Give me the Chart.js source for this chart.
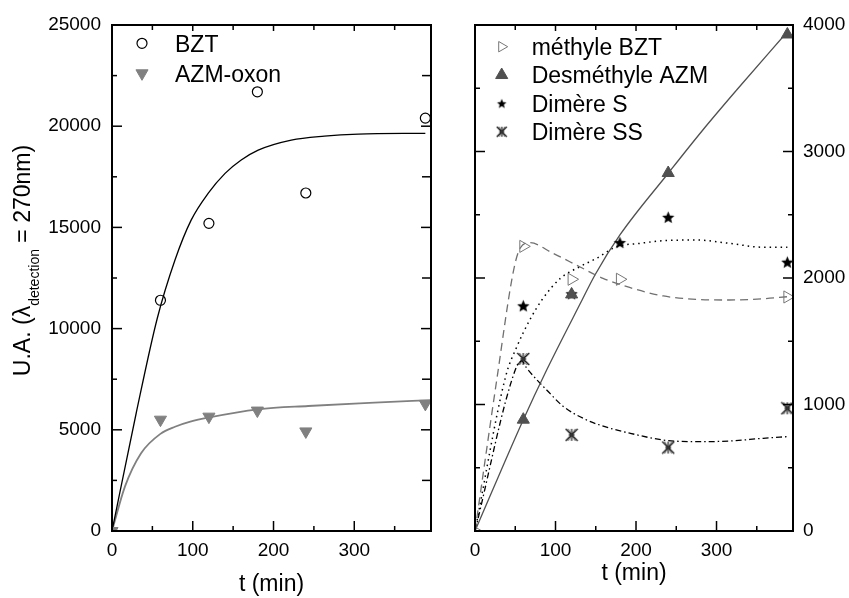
<!DOCTYPE html>
<html><head><meta charset="utf-8">
<script src="https://cdn.jsdelivr.net/npm/chart.js@4.4.0/dist/chart.umd.min.js"></script>
<style>
html,body{margin:0;padding:0;background:#fff;}
#w{position:relative;width:849px;height:598px;background:#fff;}
#c1{position:absolute;left:0;top:0;}
#c2{position:absolute;left:460px;top:0;}
</style></head><body>
<div id="w"><canvas id="c1" width="460" height="598"></canvas><canvas id="c2" width="389" height="598"></canvas></div>
<script>
const FONT = "'Liberation Sans', Arial, Helvetica, sans-serif";

// ---- Left panel data ----
const bztT = [60, 120, 180, 240, 388];
const bztV = [11400, 15200, 21700, 16700, 20400];
const oxonT = [0, 60, 120, 180, 240, 388];
const oxonV = [0, 5500, 5650, 5950, 4920, 6280];
const bztFitT = [0, 30, 56, 78, 98, 119, 140, 160, 181, 222, 263, 305, 388];
const bztFitV = [0, 5830, 10500, 13390, 15360, 16680, 17670, 18330, 18820, 19315, 19510, 19610, 19650];
const oxonFitT = [0, 16, 36, 60, 78, 97, 119, 181, 243, 325, 395];
const oxonFitV = [0, 2190, 3840, 4800, 5150, 5400, 5600, 6010, 6175, 6340, 6470];

// ---- Right panel data ----
const methT = [0, 60, 120, 180, 388];
const methV = [0, 2250, 1990, 1990, 1850];
const desT = [60, 120, 240, 388];
const desV = [880, 1870, 2830, 3925];
const dimST = [60, 120, 180, 240, 388];
const dimSV = [1780, 1875, 2280, 2480, 2125];
const dimSST = [60, 120, 240, 388];
const dimSSV = [1360, 760, 660, 970];
const methFitT = [0, 27, 48, 56, 68, 97, 130, 159, 192, 234, 275, 316, 358, 388];
const methFitV = [0, 1194, 2063, 2235, 2279, 2195, 2089, 1997, 1925, 1858, 1831, 1826, 1836, 1852];
const desFitT = [0, 60, 89, 133, 149, 180, 240, 283, 325, 388];
const desFitV = [0, 880, 1273, 1826, 2024, 2340, 2828, 3170, 3486, 3947];
const dimSFitT = [0, 38, 52, 68, 83, 106, 130, 151, 176, 205, 234, 275, 316, 358, 388];
const dimSFitV = [0, 1220, 1457, 1668, 1826, 1997, 2089, 2156, 2247, 2274, 2295, 2300, 2274, 2243, 2243];
const dimSSFitT = [0, 50, 58, 64, 77, 89, 110, 139, 168, 193, 234, 275, 316, 358, 388];
const dimSSFitV = [0, 1273, 1345, 1290, 1194, 1115, 983, 877, 812, 772, 719, 706, 711, 733, 746];

// ---- Ticks ----
const xMajor = [0, 100, 200, 300];
const xMinor = [50, 150, 250, 350];
const yMajorL = [0, 5000, 10000, 15000, 20000, 25000];
const yMinorL = [2500, 7500, 12500, 17500, 22500];
const yMajorR = [0, 1000, 2000, 3000, 4000];
const yMinorR = [500, 1500, 2500, 3500];

function xy(t, v) { return t.map((x, i) => ({x: x, y: v[i]})); }

function makeStar(r) {
  const s = Math.ceil(r * 2 + 2);
  const c = document.createElement('canvas'); c.width = s; c.height = s;
  const g = c.getContext('2d'); g.fillStyle = '#000'; g.beginPath();
  for (let i = 0; i < 10; i++) {
    const rr = i % 2 === 0 ? r : r * 0.45;
    const a = -Math.PI / 2 + i * Math.PI / 5;
    g.lineTo(s / 2 + rr * Math.cos(a), s / 2 + 0.6 + rr * Math.sin(a));
  }
  g.closePath(); g.fill();
  return c;
}
function makeSS(r) {
  const s = Math.ceil(r * 2 + 2);
  const c = document.createElement('canvas'); c.width = s; c.height = s;
  const g = c.getContext('2d'); const m = s / 2;
  g.strokeStyle = '#000'; g.lineWidth = 1.1;
  g.beginPath();
  g.moveTo(m - r, m - r); g.lineTo(m + r, m + r);
  g.moveTo(m + r, m - r); g.lineTo(m - r, m + r);
  g.moveTo(m, m - r); g.lineTo(m, m + r);
  g.moveTo(m - r * 0.5, m); g.lineTo(m + r * 0.5, m);
  g.stroke();
  g.strokeStyle = '#444'; g.lineWidth = 0.9;
  g.beginPath();
  g.moveTo(m - r * 0.6, m - r); g.lineTo(m + r * 0.6, m + r);
  g.moveTo(m + r * 0.6, m - r); g.lineTo(m - r * 0.6, m + r);
  g.stroke();
  return c;
}
const starImg = makeStar(6.5), starImgL = makeStar(5);
const ssImg = makeSS(6), ssImgL = makeSS(5);

const frameTicks = {
  id: 'frameTicks',
  afterDatasetsDraw(chart, args, o) {
    const ctx = chart.ctx, a = chart.chartArea;
    const xs = chart.scales.x, ys = chart.scales.y;
    ctx.save();
    ctx.strokeStyle = '#000'; ctx.lineWidth = 1.5;
    const line = (x1, y1, x2, y2) => { ctx.beginPath(); ctx.moveTo(x1, y1); ctx.lineTo(x2, y2); ctx.stroke(); };
    o.xMajor.forEach(v => { const p = xs.getPixelForValue(v); line(p, a.bottom, p, a.bottom - 10); line(p, a.top, p, a.top + 6); });
    o.xMinor.forEach(v => { const p = xs.getPixelForValue(v); line(p, a.bottom, p, a.bottom - 5); line(p, a.top, p, a.top + 5); });
    o.yMajor.forEach(v => { const p = ys.getPixelForValue(v); line(a.left, p, a.left + 10, p); line(a.right, p, a.right - 10, p); });
    o.yMinor.forEach(v => { const p = ys.getPixelForValue(v); line(a.left, p, a.left + o.lMin, p); line(a.right, p, a.right - o.rMin, p); });
    ctx.lineWidth = 2;
    ctx.strokeRect(a.left, a.top, a.right - a.left, a.bottom - a.top);
    ctx.restore();
  }
};

const inLegend = {
  id: 'inLegend',
  afterDraw(chart, args, o) {
    const ctx = chart.ctx;
    ctx.save();
    o.items.forEach((it, i) => {
      const ds = chart.data.datasets[it.ds];
      const y = o.y0 + i * o.dy;
      ctx.fillStyle = ds.pointBackgroundColor; ctx.strokeStyle = ds.pointBorderColor; ctx.lineWidth = ds.pointBorderWidth;
      Chart.helpers.drawPoint(ctx, {pointStyle: it.style || ds.pointStyle, rotation: ds.pointRotation || 0, radius: it.r, borderWidth: ds.pointBorderWidth}, o.mx, y);
      ctx.fillStyle = '#000'; ctx.font = '23px ' + FONT; ctx.textBaseline = 'alphabetic'; ctx.textAlign = 'left';
      ctx.fillText(ds.label, o.tx, y + 8.2);
    });
    ctx.restore();
  }
};

const yTitle = {
  id: 'yTitle',
  afterDraw(chart, args, o) {
    if (!o.show) return;
    const ctx = chart.ctx;
    ctx.save();
    const big = '23px ' + FONT, small = '14px ' + FONT;
    const p1 = 'U.A. (\u03BB', p2 = 'detection', p3 = ' = 270nm)';
    ctx.font = big; const w1 = ctx.measureText(p1).width, w3 = ctx.measureText(p3).width;
    ctx.font = small; const w2 = ctx.measureText(p2).width;
    const tot = w1 + w2 + w3;
    ctx.translate(30, 260.5 + tot / 2);
    ctx.rotate(-Math.PI / 2);
    ctx.fillStyle = '#000'; ctx.textBaseline = 'alphabetic'; ctx.textAlign = 'left';
    ctx.font = big; ctx.fillText(p1, 0, 0);
    ctx.font = small; ctx.fillText(p2, w1, 8.5);
    ctx.font = big; ctx.fillText(p3, w1 + w2, 0);
    ctx.restore();
  }
};

const lineDs = (label, t, v, color, width, dash) => ({
  label: label, data: xy(t, v), showLine: true, pointRadius: 0, pointHoverRadius: 0,
  borderColor: color, borderWidth: width, borderDash: dash, cubicInterpolationMode: 'monotone', fill: false, order: 1
});

function makeOpts(cfg) {
  return {
    responsive: false, animation: false, events: [],
    layout: {padding: cfg.padding},
    scales: {
      x: {
        type: 'linear', min: 0, max: 395,
        afterBuildTicks: s => { s.ticks = xMajor.map(v => ({value: v})); },
        afterFit: s => { s.height = 67; },
        grid: {display: false, drawTicks: false}, border: {display: false},
        ticks: {color: '#000', font: {family: FONT, size: 19}, padding: 8, maxRotation: 0, callback: v => String(v)},
        title: {display: true, text: 't (min)', color: '#000', font: {family: FONT, size: 23}, padding: {top: 0, bottom: cfg.xtPad}}
      },
      y: {
        type: 'linear', position: cfg.ypos, min: 0, max: cfg.ymax,
        afterBuildTicks: s => { s.ticks = cfg.yMajor.map(v => ({value: v})); },
        afterFit: s => { s.width = cfg.yw; },
        grid: {display: false, drawTicks: false}, border: {display: false},
        ticks: {color: '#000', font: {family: FONT, size: 19}, padding: cfg.ypad, callback: v => String(v)}
      }
    },
    plugins: {
      legend: {display: false}, tooltip: {enabled: false},
      frameTicks: {xMajor: xMajor, xMinor: xMinor, yMajor: cfg.yMajor, yMinor: cfg.yMinor, lMin: 5, rMin: cfg.rMin},
      inLegend: cfg.legend,
      yTitle: {show: cfg.ytitle}
    }
  };
}

new Chart(document.getElementById('c1'), {
  type: 'scatter',
  data: {datasets: [
    {label: 'BZT', data: xy(bztT, bztV), pointStyle: 'circle', pointRadius: 5, pointBackgroundColor: 'rgba(0,0,0,0)', pointBorderColor: '#000', pointBorderWidth: 1.2, order: 0, clip: 0},
    {label: 'AZM-oxon', data: xy(oxonT, oxonV), pointStyle: 'triangle', pointRotation: 180, pointRadius: 7, pointBackgroundColor: '#808080', pointBorderColor: '#808080', pointBorderWidth: 1, order: 0, clip: 0},
    lineDs('BZT fit', bztFitT, bztFitV, '#000', 1.3, []),
    lineDs('AZM-oxon fit', oxonFitT, oxonFitV, '#808080', 1.8, [])
  ]},
  options: makeOpts({
    padding: {left: 0, top: 25, right: 29, bottom: 0}, ypos: 'left', ymax: 25000, yMajor: yMajorL, yMinor: yMinorL,
    yw: 112, ypad: 11, rMin: 9, xtPad: 0, ytitle: true,
    legend: {mx: 142, tx: 175, y0: 43.3, dy: 30, items: [{ds: 0, r: 5}, {ds: 1, r: 7}]}
  }),
  plugins: [frameTicks, inLegend, yTitle]
});

new Chart(document.getElementById('c2'), {
  type: 'scatter',
  data: {datasets: [
    {label: 'méthyle BZT', data: xy(methT, methV), pointStyle: 'triangle', pointRotation: 90, pointRadius: 7, pointBackgroundColor: 'rgba(255,255,255,0)', pointBorderColor: '#777', pointBorderWidth: 1, order: 0, clip: 0},
    {label: 'Desméthyle AZM', data: xy(desT, desV), pointStyle: 'triangle', pointRadius: 7, pointBackgroundColor: '#505050', pointBorderColor: '#505050', pointBorderWidth: 1, order: 0},
    {label: 'Dimère S', data: xy(dimST, dimSV), pointStyle: starImg, pointRadius: 6, pointBackgroundColor: '#000', pointBorderColor: '#000', pointBorderWidth: 1, order: 0},
    {label: 'Dimère SS', data: xy(dimSST, dimSSV), pointStyle: ssImg, pointRadius: 6, pointBackgroundColor: '#000', pointBorderColor: '#000', pointBorderWidth: 1, order: 0},
    lineDs('méthyle BZT fit', methFitT, methFitV, '#707070', 1.3, [8, 5]),
    lineDs('Desméthyle AZM fit', desFitT, desFitV, '#505050', 1.3, []),
    lineDs('Dimère S fit', dimSFitT, dimSFitV, '#000', 1.5, [1.5, 4]),
    lineDs('Dimère SS fit', dimSSFitT, dimSSFitV, '#000', 1.3, [6, 3, 1.5, 3])
  ]},
  options: makeOpts({
    padding: {left: 15, top: 25, right: 0, bottom: 0}, ypos: 'right', ymax: 4000, yMajor: yMajorR, yMinor: yMinorR,
    yw: 56, ypad: 10, rMin: 5, xtPad: 11, ytitle: false,
    legend: {mx: 41.7, tx: 71.7, y0: 46.7, dy: 28.33, items: [{ds: 0, r: 6}, {ds: 1, r: 7}, {ds: 2, r: 5, style: starImgL}, {ds: 3, r: 5, style: ssImgL}]}
  }),
  plugins: [frameTicks, inLegend]
});
</script>
</body></html>
